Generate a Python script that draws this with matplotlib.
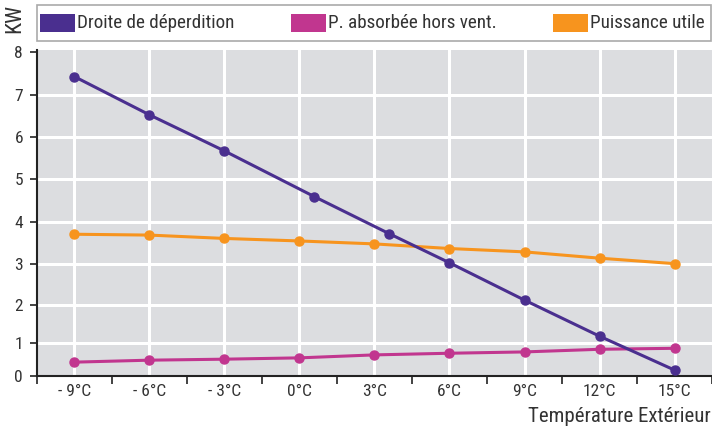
import numpy as np
import matplotlib
matplotlib.use("Agg")
import matplotlib.pyplot as plt
from matplotlib.patches import Rectangle
from matplotlib.ticker import FixedLocator, NullFormatter

# data
temps = [-9, -6, -3, 0, 3, 6, 9, 12, 15]
temp_labels = ["- 9°C", "- 6°C", "- 3°C", "0°C", "3°C", "6°C", "9°C", "12°C", "15°C"]
deperdition_x = [-9, -6, -3, 0.6, 3.6, 6, 9, 12, 15]
deperdition = [7.43, 6.53, 5.67, 4.59, 3.72, 3.03, 2.12, 1.18, 0.18]
absorbee = [0.42, 0.48, 0.51, 0.55, 0.64, 0.69, 0.73, 0.81, 0.84]
utile = [3.71, 3.69, 3.61, 3.55, 3.48, 3.37, 3.29, 3.14, 3.01]

series_names = ["Droite de déperdition", "P. absorbée hors vent.", "Puissance utile"]
colors = ["#4a2f8f", "#c1368f", "#f7941e"]

# the original y axis is not evenly spaced: map values to pixel heights
y_vals = np.array([-1, 0, 1, 2, 3, 4, 5, 6, 7, 8, 9], dtype=float)
y_pix = np.array([-34, 0, 33, 71, 112, 154, 197, 239, 281, 324, 367], dtype=float)


def fwd(v):
    return np.interp(v, y_vals, y_pix)


def inv(t):
    return np.interp(t, y_pix, y_vals)


plt.rcParams["font.family"] = ["Roboto Condensed", "Roboto", "DejaVu Sans"]
TXT = "#333333"

W, H = 712, 429
fig = plt.figure(figsize=(W / 100, H / 100), dpi=100)
ax = fig.add_axes([37 / W, 1 - 376 / H, 675 / W, 326 / H])
ax.set_facecolor("#dcdde0")
ax.set_yscale("function", functions=(fwd, inv))
ax.set_xlim(-10.5, 16.5)
ax.set_ylim(0, 8.05)

# gridlines
for t in temps:
    ax.axvline(t, color="white", lw=2.2, zorder=1)
for v in range(1, 8):
    ax.axhline(v, color="white", lw=2.2, zorder=1)

lw, ms = 2.2, 6.5
ax.plot(deperdition_x, deperdition, color=colors[0], lw=lw, marker="o", ms=ms, zorder=4)
ax.plot(temps, absorbee, color=colors[1], lw=lw, marker="o", ms=ms, zorder=3)
ax.plot(temps, utile, color=colors[2], lw=lw, marker="o", ms=ms, zorder=3)

# x axis: ticks on category boundaries, labels on centers
bounds = [t - 1.5 for t in temps] + [temps[-1] + 1.5]
ax.xaxis.set_major_locator(FixedLocator(bounds))
ax.xaxis.set_major_formatter(NullFormatter())
ax.xaxis.set_minor_locator(FixedLocator(temps))
ax.set_xticklabels(temp_labels, minor=True)
ax.tick_params(axis="x", which="major", length=6, width=1.2, color="#222222")
ax.tick_params(axis="x", which="minor", length=0, pad=6, labelsize=12.5, labelcolor=TXT)

ax.set_yticks(range(0, 9))
ax.set_yticklabels([str(v) for v in range(0, 9)])
ax.tick_params(axis="y", length=5, width=1.2, color="#222222", pad=5, labelsize=12.5, labelcolor=TXT)
ax.yaxis.set_minor_locator(FixedLocator([]))

for s in ["top", "right"]:
    ax.spines[s].set_visible(False)
for s in ["left", "bottom"]:
    ax.spines[s].set_color("#222222")
    ax.spines[s].set_linewidth(1.5)

fig.text(711 / W, 1 - 416 / H, "Température Extérieur", ha="right", va="center",
         fontsize=15, color=TXT)
fig.text(15 / W, 1 - 18 / H, "KW", rotation=90, ha="center", va="center",
         fontsize=16, color=TXT)

# legend box drawn by hand to keep the original spacing
fig.patches.append(Rectangle((37 / W, 1 - 41 / H), 674 / W, 36 / H, transform=fig.transFigure,
                             facecolor="white", edgecolor="#aaaaaa", lw=1.2))
leg_x = [40, 291, 553]
for x0, c, name in zip(leg_x, colors, series_names):
    fig.patches.append(Rectangle((x0 / W, 1 - 32 / H), 35 / W, 18 / H,
                                 transform=fig.transFigure, facecolor=c, edgecolor="none"))
    fig.text((x0 + 37) / W, 1 - 23 / H, name, ha="left", va="center",
             fontsize=13.8, color=TXT)

fig.savefig("out.png", dpi=100)
